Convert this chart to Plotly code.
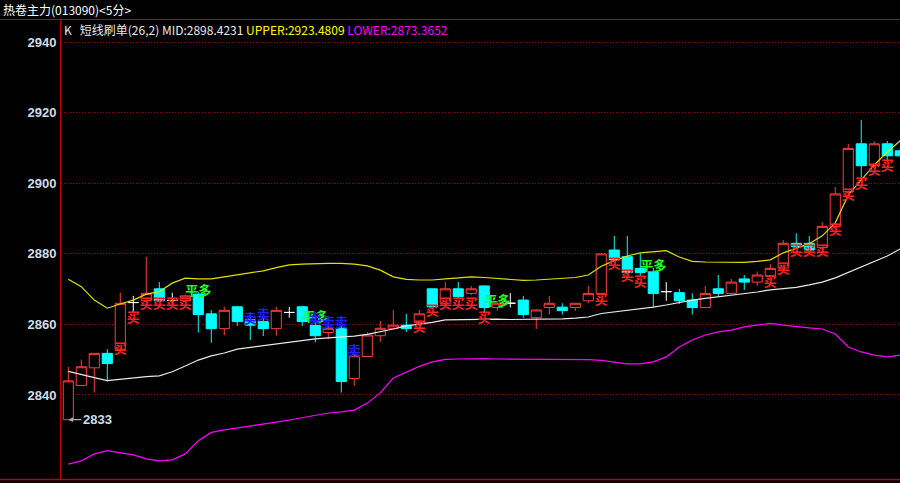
import plotly.graph_objects as go

# ---------------- data ----------------
opens = [2833, 2842.7, 2847.7, 2851.8, 2853, 2866.2, 2866.8, 2870.1, 2866.8, 2866.8,
         2868.6, 2863, 2858.8, 2865, 2861.3, 2860.8, 2858.8, 2863.4, 2865, 2859.7,
         2857.7, 2858.9, 2844.7, 2850.9, 2856.8, 2858.9, 2859.8, 2860.6, 2870.1, 2866,
         2870.1, 2868.8, 2870.9, 2864.8, 2866, 2866.9, 2861.9, 2864.8, 2864.9, 2864.8,
         2866.7, 2868.8, 2881.1, 2879.2, 2875.9, 2874.9, 2869.3, 2869, 2866.9, 2864.8,
         2870.1, 2868.8, 2872.9, 2872, 2873.8, 2876, 2883, 2883, 2881.8, 2887.8,
         2897.6, 2911.2, 2905, 2911.2, 2909.2]
highs = [2848, 2850, 2851.8, 2853, 2869, 2868.1, 2879.2, 2872, 2869, 2868.5,
         2869.2, 2864.1, 2865, 2865.3, 2862.5, 2862, 2865, 2865, 2865.3, 2862,
         2860.5, 2860.5, 2852.5, 2857.8, 2861, 2864.1, 2863, 2864.1, 2870.1, 2872,
         2872, 2870.9, 2871.2, 2866.5, 2868.9, 2868.1, 2864.3, 2868.1, 2866, 2866,
         2870.9, 2880.2, 2885.1, 2885.1, 2880.2, 2876, 2872, 2870.1, 2868.8, 2870.9,
         2874, 2872.9, 2874, 2875, 2877.1, 2883.9, 2885.8, 2885.1, 2889, 2899,
         2911.2, 2918, 2911.9, 2912, 2910]
lows = [2833, 2842.5, 2840.7, 2843.8, 2853, 2863.2, 2866, 2866.5, 2865.5, 2866.3,
        2857.7, 2854.8, 2856.9, 2859.6, 2855.6, 2856.7, 2856.8, 2861.9, 2859.6, 2854.9,
        2855.8, 2840.7, 2842.6, 2850.9, 2855, 2858.9, 2857.8, 2859.5, 2864.5, 2866,
        2867.5, 2868.3, 2863.3, 2863.9, 2864.8, 2861.9, 2858.7, 2862.8, 2862.8, 2863.8,
        2866, 2868.3, 2877.5, 2873.5, 2873.8, 2864.9, 2866.7, 2865.8, 2862.8, 2864.8,
        2867.9, 2868.8, 2869.8, 2870.9, 2872.8, 2875.5, 2881.5, 2880.5, 2881, 2887,
        2897, 2900.5, 2904.5, 2906.1, 2907.5]
closes = [2844, 2848, 2851.8, 2848.9, 2866, 2866.2, 2868.8, 2866.7, 2866.8, 2868.1,
          2862.8, 2858.8, 2864, 2860.8, 2859.8, 2858.8, 2864, 2863.4, 2860.8, 2856.8,
          2858.9, 2843.8, 2851.1, 2857, 2858.9, 2859.8, 2858.8, 2863, 2865, 2870.1,
          2867.9, 2870.1, 2864.8, 2866, 2866, 2862.8, 2864.1, 2866, 2863.9, 2866,
          2868.8, 2880, 2878.3, 2874.7, 2874.7, 2868.8, 2869.3, 2866.7, 2864.8, 2868.8,
          2868.8, 2872, 2872, 2874, 2875.9, 2883, 2882.1, 2881.1, 2887.8, 2897,
          2909.9, 2905, 2911.2, 2907.8, 2907.8]

upper = [2872.8, 2870.7, 2866.9, 2864.6, 2865.8, 2866.9, 2868.6, 2869.3, 2871.7, 2873.1,
         2872.9, 2872.9, 2873.5, 2874.0, 2874.6, 2875.2, 2876.1, 2876.9, 2877.1, 2877.3,
         2877.3, 2877.3, 2877.1, 2876.6, 2875.4, 2873.5, 2872.8, 2872.6, 2872.6, 2872.9,
         2873.3, 2873.5, 2873.3, 2873.0, 2872.7, 2872.5, 2872.6, 2872.8, 2872.9, 2873.3,
         2874.0, 2876.5, 2878.1, 2879.4, 2880.3, 2880.7, 2880.9, 2879.1, 2877.9, 2877.7,
         2877.6, 2877.6, 2877.6, 2877.9, 2878.3, 2880.3, 2881.7, 2882.9, 2885.1, 2888.8,
         2896.7, 2901.0, 2905.2, 2908.9, 2912.1]
mid = [2846.7, 2845.7, 2844.9, 2844.1, 2844.5, 2844.8, 2845.2, 2845.4, 2846.6, 2848.2,
       2849.9, 2851.1, 2851.9, 2853.0, 2853.5, 2853.9, 2854.5, 2855.0, 2855.6, 2855.9,
       2856.2, 2856.4, 2856.7, 2857.2, 2857.9, 2858.7, 2859.6, 2860.0, 2860.6, 2861.3,
       2861.4, 2861.5, 2861.5, 2861.5, 2861.4, 2861.4, 2861.4, 2861.5, 2861.6, 2861.8,
       2862.1, 2863.1, 2863.5, 2863.9, 2864.4, 2864.9, 2865.5, 2866.3, 2866.9, 2867.4,
       2867.8, 2868.4, 2868.7, 2869.2, 2869.8, 2870.1, 2870.5, 2871.2, 2872.0, 2873.2,
       2874.7, 2876.3, 2877.7, 2879.4, 2881.4]
lower = [2820.4, 2821.3, 2823.3, 2824.2, 2823.6, 2823.0, 2821.9, 2821.3, 2821.6, 2823.3,
         2827.0, 2829.4, 2830.1, 2830.6, 2831.2, 2831.8, 2832.3, 2832.9, 2833.5, 2834.3,
         2834.9, 2835.2, 2835.7, 2837.7, 2840.6, 2844.8, 2846.5, 2848.1, 2849.4, 2850.1,
         2850.2, 2850.3, 2850.3, 2850.2, 2850.2, 2850.2, 2850.2, 2850.2, 2850.2, 2850.1,
         2850.0, 2849.8, 2849.4, 2848.8, 2848.8, 2849.4, 2850.8, 2853.6, 2855.6, 2857.0,
         2857.9, 2858.4, 2859.3, 2859.8, 2860.3, 2859.8, 2859.3, 2859.0, 2858.7, 2857.3,
         2853.6, 2852.2, 2851.3, 2850.8, 2851.3]

buy_idx = [4, 5, 6, 7, 8, 9, 27, 28, 29, 30, 31, 32, 41, 42, 43, 44,
           54, 55, 56, 57, 58, 59, 60, 61, 62, 63]
buy_y = [2852.8, 2861.7, 2865.5, 2865.5, 2865.5, 2865.5, 2859.2, 2863.6, 2865.5, 2865.5,
         2865.5, 2861.7, 2866.7, 2876.9, 2873.4, 2871.7, 2871.7, 2875.4, 2880.6, 2880.6,
         2880.6, 2886.6, 2896.4, 2899.5, 2903.6, 2904.7]
sell_idx = [14, 15, 19, 20, 21, 22]
sell_y = [2861.3, 2862.5, 2861.3, 2860.3, 2860.3, 2852.3]
close_long_idx = [10, 19, 33, 45, 64]
close_long_y = [2869.3, 2861.8, 2866.5, 2876.4, 2912.3]

y_ticks = [2840, 2860, 2880, 2900, 2920, 2940]
title_text = "热卷主力(013090)&lt;5分&gt;"
low_label = "2833"

# ---------------- figure ----------------
n = len(opens)
xs = list(range(n))
up = [i for i in xs if closes[i] > opens[i]]
dn = [i for i in xs if closes[i] < opens[i]]
dj = [i for i in xs if closes[i] == opens[i]]

def sub(arr, idx):
    return [arr[i] for i in idx]

RED = "#ff3c3c"
CYAN = "#00ffff"

fig = go.Figure()
fig.add_trace(go.Candlestick(
    x=up, open=sub(opens, up), high=sub(highs, up), low=sub(lows, up), close=sub(closes, up),
    increasing=dict(line=dict(color=RED, width=1), fillcolor="#000000"),
    decreasing=dict(line=dict(color=RED, width=1), fillcolor="#000000"),
    whiskerwidth=0, showlegend=False, hoverinfo="skip"))
fig.add_trace(go.Candlestick(
    x=dn, open=sub(opens, dn), high=sub(highs, dn), low=sub(lows, dn), close=sub(closes, dn),
    increasing=dict(line=dict(color=CYAN, width=1), fillcolor=CYAN),
    decreasing=dict(line=dict(color=CYAN, width=1), fillcolor=CYAN),
    whiskerwidth=0, showlegend=False, hoverinfo="skip"))
fig.add_trace(go.Candlestick(
    x=dj, open=sub(opens, dj), high=sub(highs, dj), low=sub(lows, dj), close=sub(closes, dj),
    increasing=dict(line=dict(color="#ffffff", width=1), fillcolor="#ffffff"),
    decreasing=dict(line=dict(color="#ffffff", width=1), fillcolor="#ffffff"),
    whiskerwidth=0, showlegend=False, hoverinfo="skip"))

fig.add_trace(go.Scatter(x=xs, y=upper, mode="lines", line=dict(color="#e0e000", width=1.2),
                         showlegend=False, hoverinfo="skip"))
fig.add_trace(go.Scatter(x=xs, y=mid, mode="lines", line=dict(color="#e8e8e8", width=1.2),
                         showlegend=False, hoverinfo="skip"))
fig.add_trace(go.Scatter(x=xs, y=lower, mode="lines", line=dict(color="#ff00ff", width=1.2),
                         showlegend=False, hoverinfo="skip"))

mk_font = "Noto Sans CJK SC"
fig.add_trace(go.Scatter(x=buy_idx, y=buy_y, mode="text", text=["买"] * len(buy_idx),
                         textfont=dict(family=mk_font, size=13, color="#ff2020", weight="bold"),
                         showlegend=False, hoverinfo="skip", cliponaxis=False))
fig.add_trace(go.Scatter(x=close_long_idx, y=close_long_y, mode="text",
                         text=["平多"] * len(close_long_idx),
                         textfont=dict(family=mk_font, size=13, color="#20ff20", weight="bold"),
                         showlegend=False, hoverinfo="skip", cliponaxis=False))
fig.add_trace(go.Scatter(x=sell_idx, y=sell_y, mode="text", text=["卖"] * len(sell_idx),
                         textfont=dict(family=mk_font, size=13, color="#2020ff", weight="bold"),
                         showlegend=False, hoverinfo="skip", cliponaxis=False))

W, H = 900, 483
L, R, T, B = 61, 0, 20, 3
pw = W - L - R
ph = H - T - B

def px_x(p):
    return (p - L) / pw

def px_y(p):
    return (H - B - p) / ph

AXIS_RED = "#c00000"
fig.update_layout(
    width=W, height=H,
    margin=dict(l=L, r=R, t=T, b=B, pad=0),
    paper_bgcolor="#000000", plot_bgcolor="#000000",
    boxgap=0.22, boxgroupgap=0,
    xaxis=dict(range=[-0.56, 63.98], showgrid=False, zeroline=False, showticklabels=False,
               ticks="", showline=False, rangeslider=dict(visible=False), fixedrange=True),
    yaxis=dict(range=[2815.9, 2946.3], tickvals=y_ticks, ticktext=[str(v) for v in y_ticks],
               showgrid=True, gridcolor="#a00000", griddash="1px,2px", gridwidth=1,
               zeroline=False, showline=True, linecolor=AXIS_RED, linewidth=1,
               ticks="", ticklabelstandoff=1,
               tickfont=dict(family="Liberation Sans", size=13, color="#d0dcea", weight="bold")),
    font=dict(family="Noto Sans CJK SC", color="#ffffff"),
    showlegend=False,
)

fig.add_shape(type="line", xref="paper", yref="paper", x0=px_x(0), x1=1, y0=px_y(19.5), y1=px_y(19.5),
              line=dict(color=AXIS_RED, width=1))
fig.add_shape(type="line", xref="paper", yref="paper", x0=px_x(0), x1=1, y0=px_y(479.5), y1=px_y(479.5),
              line=dict(color=AXIS_RED, width=1.5))

fig.add_annotation(xref="paper", yref="paper", x=px_x(1), y=px_y(9), xanchor="left", yanchor="middle",
                   text=title_text, showarrow=False,
                   font=dict(family="Noto Sans CJK SC", size=12, color="#ffffff"))
fig.add_annotation(xref="paper", yref="paper", x=px_x(62), y=px_y(30), xanchor="left", yanchor="middle",
                   text=("K&nbsp;&nbsp;&nbsp;短线刷单(26,2) MID:2898.4231 "
                         "<span style='color:#ffff00'>UPPER:2923.4809</span> "
                         "<span style='color:#ff00ff'>LOWER:2873.3652</span>"),
                   showarrow=False,
                   font=dict(family="Noto Sans CJK SC", size=12, color="#e8e8e8"))
fig.add_annotation(x=0, y=lows[0], text=low_label, xanchor="left", yanchor="middle",
                   showarrow=True, ax=13, ay=0, arrowhead=2, arrowsize=0.8, arrowwidth=1.2,
                   arrowcolor="#b0b0b0", standoff=0,
                   font=dict(family="Liberation Sans", size=13, color="#d0dcea", weight="bold"))

fig.write_html("out.html", config={"displayModeBar": False},
               post_script="document.body.style.margin='0px';document.body.style.background='#000';")
